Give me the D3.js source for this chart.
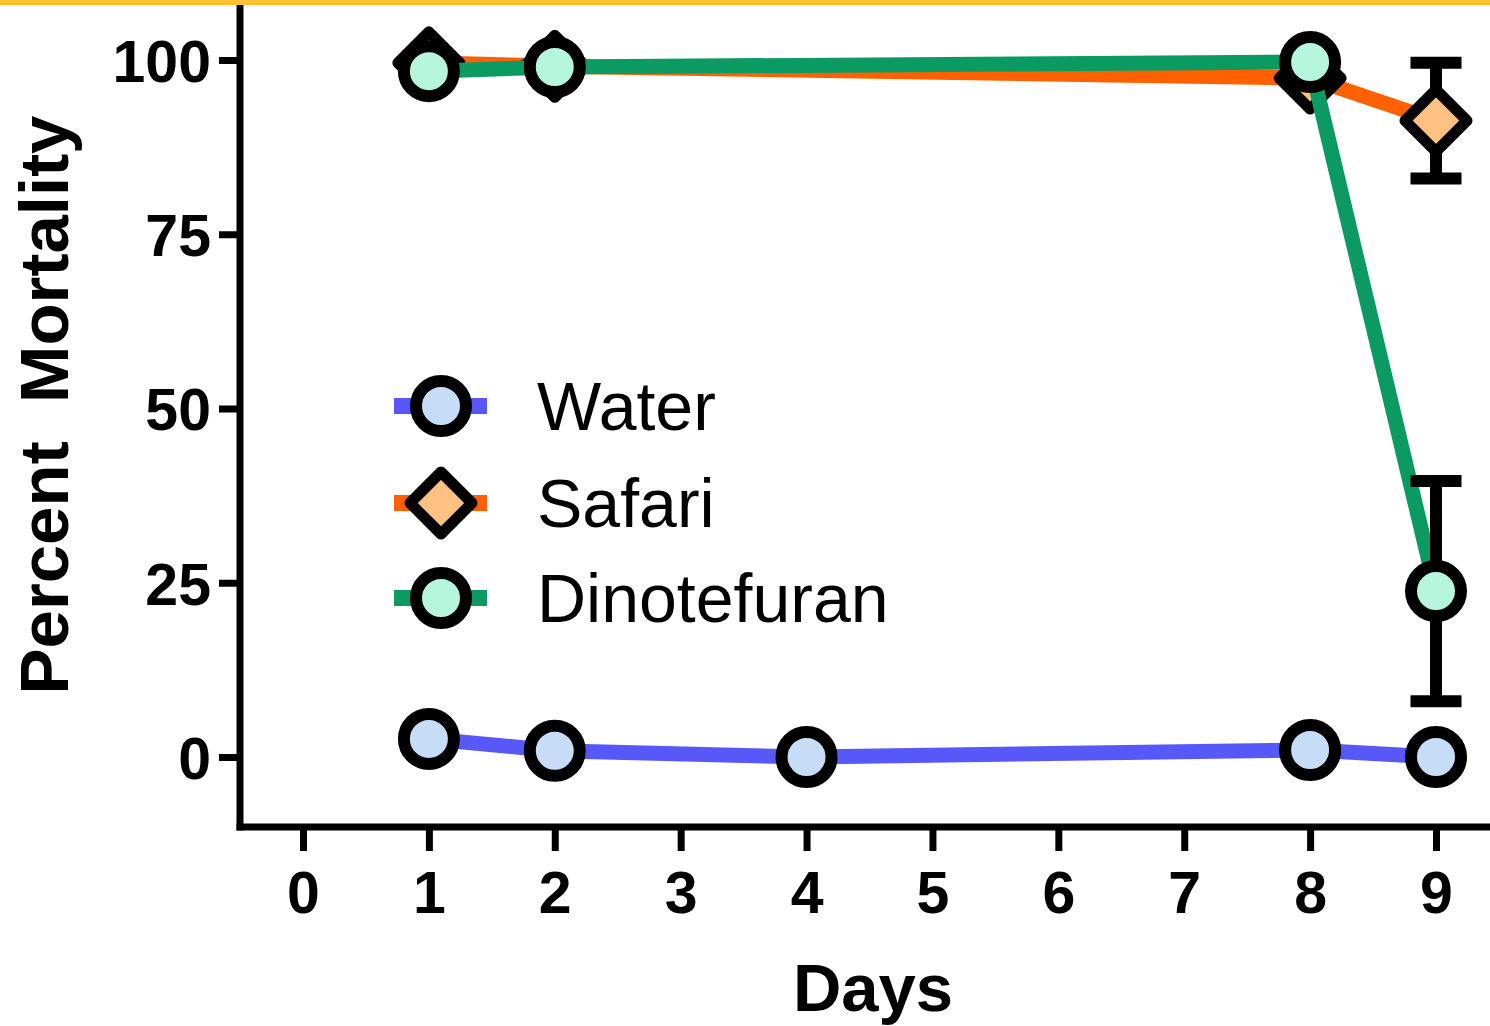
<!DOCTYPE html>
<html><head><meta charset="utf-8">
<script src="https://cdn.jsdelivr.net/npm/d3@7"></script>
<style>html,body{margin:0;padding:0;background:#fff;}svg{display:block;}</style>
</head><body>
<svg id="chart" width="1490" height="1026"></svg>
<script>
const xTicks = [0,1,2,3,4,5,6,7,8,9];
const yTicks = [0,25,50,75,100];
const seriesNames = ["Water","Safari","Dinotefuran"];
const waterDays = [1,2,4,8,9];
const waterMean = [2.6,0.9,0,1.0,0];
const waterErr  = [0,0,0,0,0];
const safariDays = [1,2,8,9];
const safariMean = [99.6,99.1,97.4,91.3];
const safariErr  = [0,0,0,8.3];
const dinoDays = [1,2,8,9];
const dinoMean = [98.4,99.0,99.7,23.8];
const dinoErr  = [0,0,0,15.8];

const FONT = "'Liberation Sans', Arial, sans-serif";
const svg = d3.select("#chart");
const W = 1490, H = 1026;

const x = d3.scaleLinear().domain([0,9]).range([303,1436]);
const y = d3.scaleLinear().domain([0,100]).range([757,60]);

const series = [
  {name:seriesNames[0], days:waterDays, mean:waterMean, err:waterErr, line:"#5858F8", fill:"#C7DDF7", shape:"circle"},
  {name:seriesNames[1], days:safariDays, mean:safariMean, err:safariErr, line:"#FF6100", fill:"#FFC182", shape:"diamond"},
  {name:seriesNames[2], days:dinoDays, mean:dinoMean, err:dinoErr, line:"#0B9A62", fill:"#B5F6DD", shape:"circle"}
];

// top yellow band
svg.append("rect").attr("x",0).attr("y",0).attr("width",W).attr("height",5).attr("fill","#FDC22E");

// axes
const yAxis = d3.axisLeft(y).tickValues(yTicks).tickSize(21).tickSizeOuter(0).tickPadding(8);
const gy = svg.append("g").attr("transform","translate(240,0)").call(yAxis);
gy.select(".domain").remove();
gy.selectAll(".tick line").attr("stroke","#000").attr("stroke-width",7);
gy.selectAll(".tick text").attr("font-family",FONT).attr("font-weight","bold").attr("font-size",59).attr("fill","#000").attr("dy","0.36em");

const xAxis = d3.axisBottom(x).tickValues(xTicks).tickSize(24).tickSizeOuter(0).tickPadding(0).tickFormat(d3.format("d"));
const gx = svg.append("g").attr("transform","translate(0,827)").call(xAxis);
gx.select(".domain").remove();
gx.selectAll(".tick line").attr("stroke","#000").attr("stroke-width",7);
gx.selectAll(".tick text").attr("font-family",FONT).attr("font-weight","bold").attr("font-size",59).attr("fill","#000").attr("dy",null).attr("y",86);

// axis lines
svg.append("line").attr("x1",240).attr("x2",240).attr("y1",5).attr("y2",830.5).attr("stroke","#000").attr("stroke-width",7);
svg.append("line").attr("x1",236.5).attr("x2",W).attr("y1",827).attr("y2",827).attr("stroke","#000").attr("stroke-width",7);

// axis titles
svg.append("text").attr("x",873).attr("y",1011).attr("text-anchor","middle")
  .attr("font-family",FONT).attr("font-weight","bold").attr("font-size",67).text("Days");
svg.append("text").attr("transform","translate(68,405) rotate(-90)").attr("text-anchor","middle")
  .attr("font-family",FONT).attr("font-weight","bold").attr("font-size",69).text("Percent\u00A0\u00A0Mortality");

function marker(g, shape, fill) {
  if (shape === "circle") {
    g.append("circle").attr("r",25).attr("fill",fill).attr("stroke","#000").attr("stroke-width",12);
  } else {
    const h = 31;
    g.append("path").attr("d",`M0,${-h}L${h},0L0,${h}L${-h},0Z`).attr("fill",fill)
      .attr("stroke","#000").attr("stroke-width",11).attr("stroke-linejoin","round");
  }
}

const line = d3.line().x(d=>x(d.day)).y(d=>y(d.mean));
series.forEach(s => {
  const pts = s.days.map((d,i)=>({day:d, mean:s.mean[i], err:s.err[i]}));
  const g = svg.append("g");
  g.append("path").datum(pts).attr("d",line).attr("fill","none").attr("stroke",s.line)
    .attr("stroke-width",15).attr("stroke-linejoin","round");
  pts.filter(p=>p.err>0).forEach(p => {
    const eg = g.append("g").attr("stroke","#000").attr("stroke-width",12);
    eg.append("line").attr("x1",x(p.day)).attr("x2",x(p.day)).attr("y1",y(p.mean+p.err)).attr("y2",y(p.mean-p.err));
    eg.append("line").attr("x1",x(p.day)-25.5).attr("x2",x(p.day)+25.5).attr("y1",y(p.mean+p.err)).attr("y2",y(p.mean+p.err));
    eg.append("line").attr("x1",x(p.day)-25.5).attr("x2",x(p.day)+25.5).attr("y1",y(p.mean-p.err)).attr("y2",y(p.mean-p.err));
  });
  pts.forEach(p => {
    const mg = g.append("g").attr("transform",`translate(${x(p.day)},${y(p.mean)})`);
    marker(mg, s.shape, s.fill);
  });
});

// legend
const legendY = [406,503,598];
series.forEach((s,i) => {
  const lg = svg.append("g").attr("transform",`translate(441,${legendY[i]})`);
  lg.append("line").attr("x1",-47).attr("x2",46).attr("y1",0).attr("y2",0).attr("stroke",s.line).attr("stroke-width",16);
  marker(lg, s.shape, s.fill);
  lg.append("text").attr("x",96).attr("y",24).attr("font-family",FONT).attr("font-size",68).attr("fill","#000").text(s.name);
});
</script>
</body></html>
